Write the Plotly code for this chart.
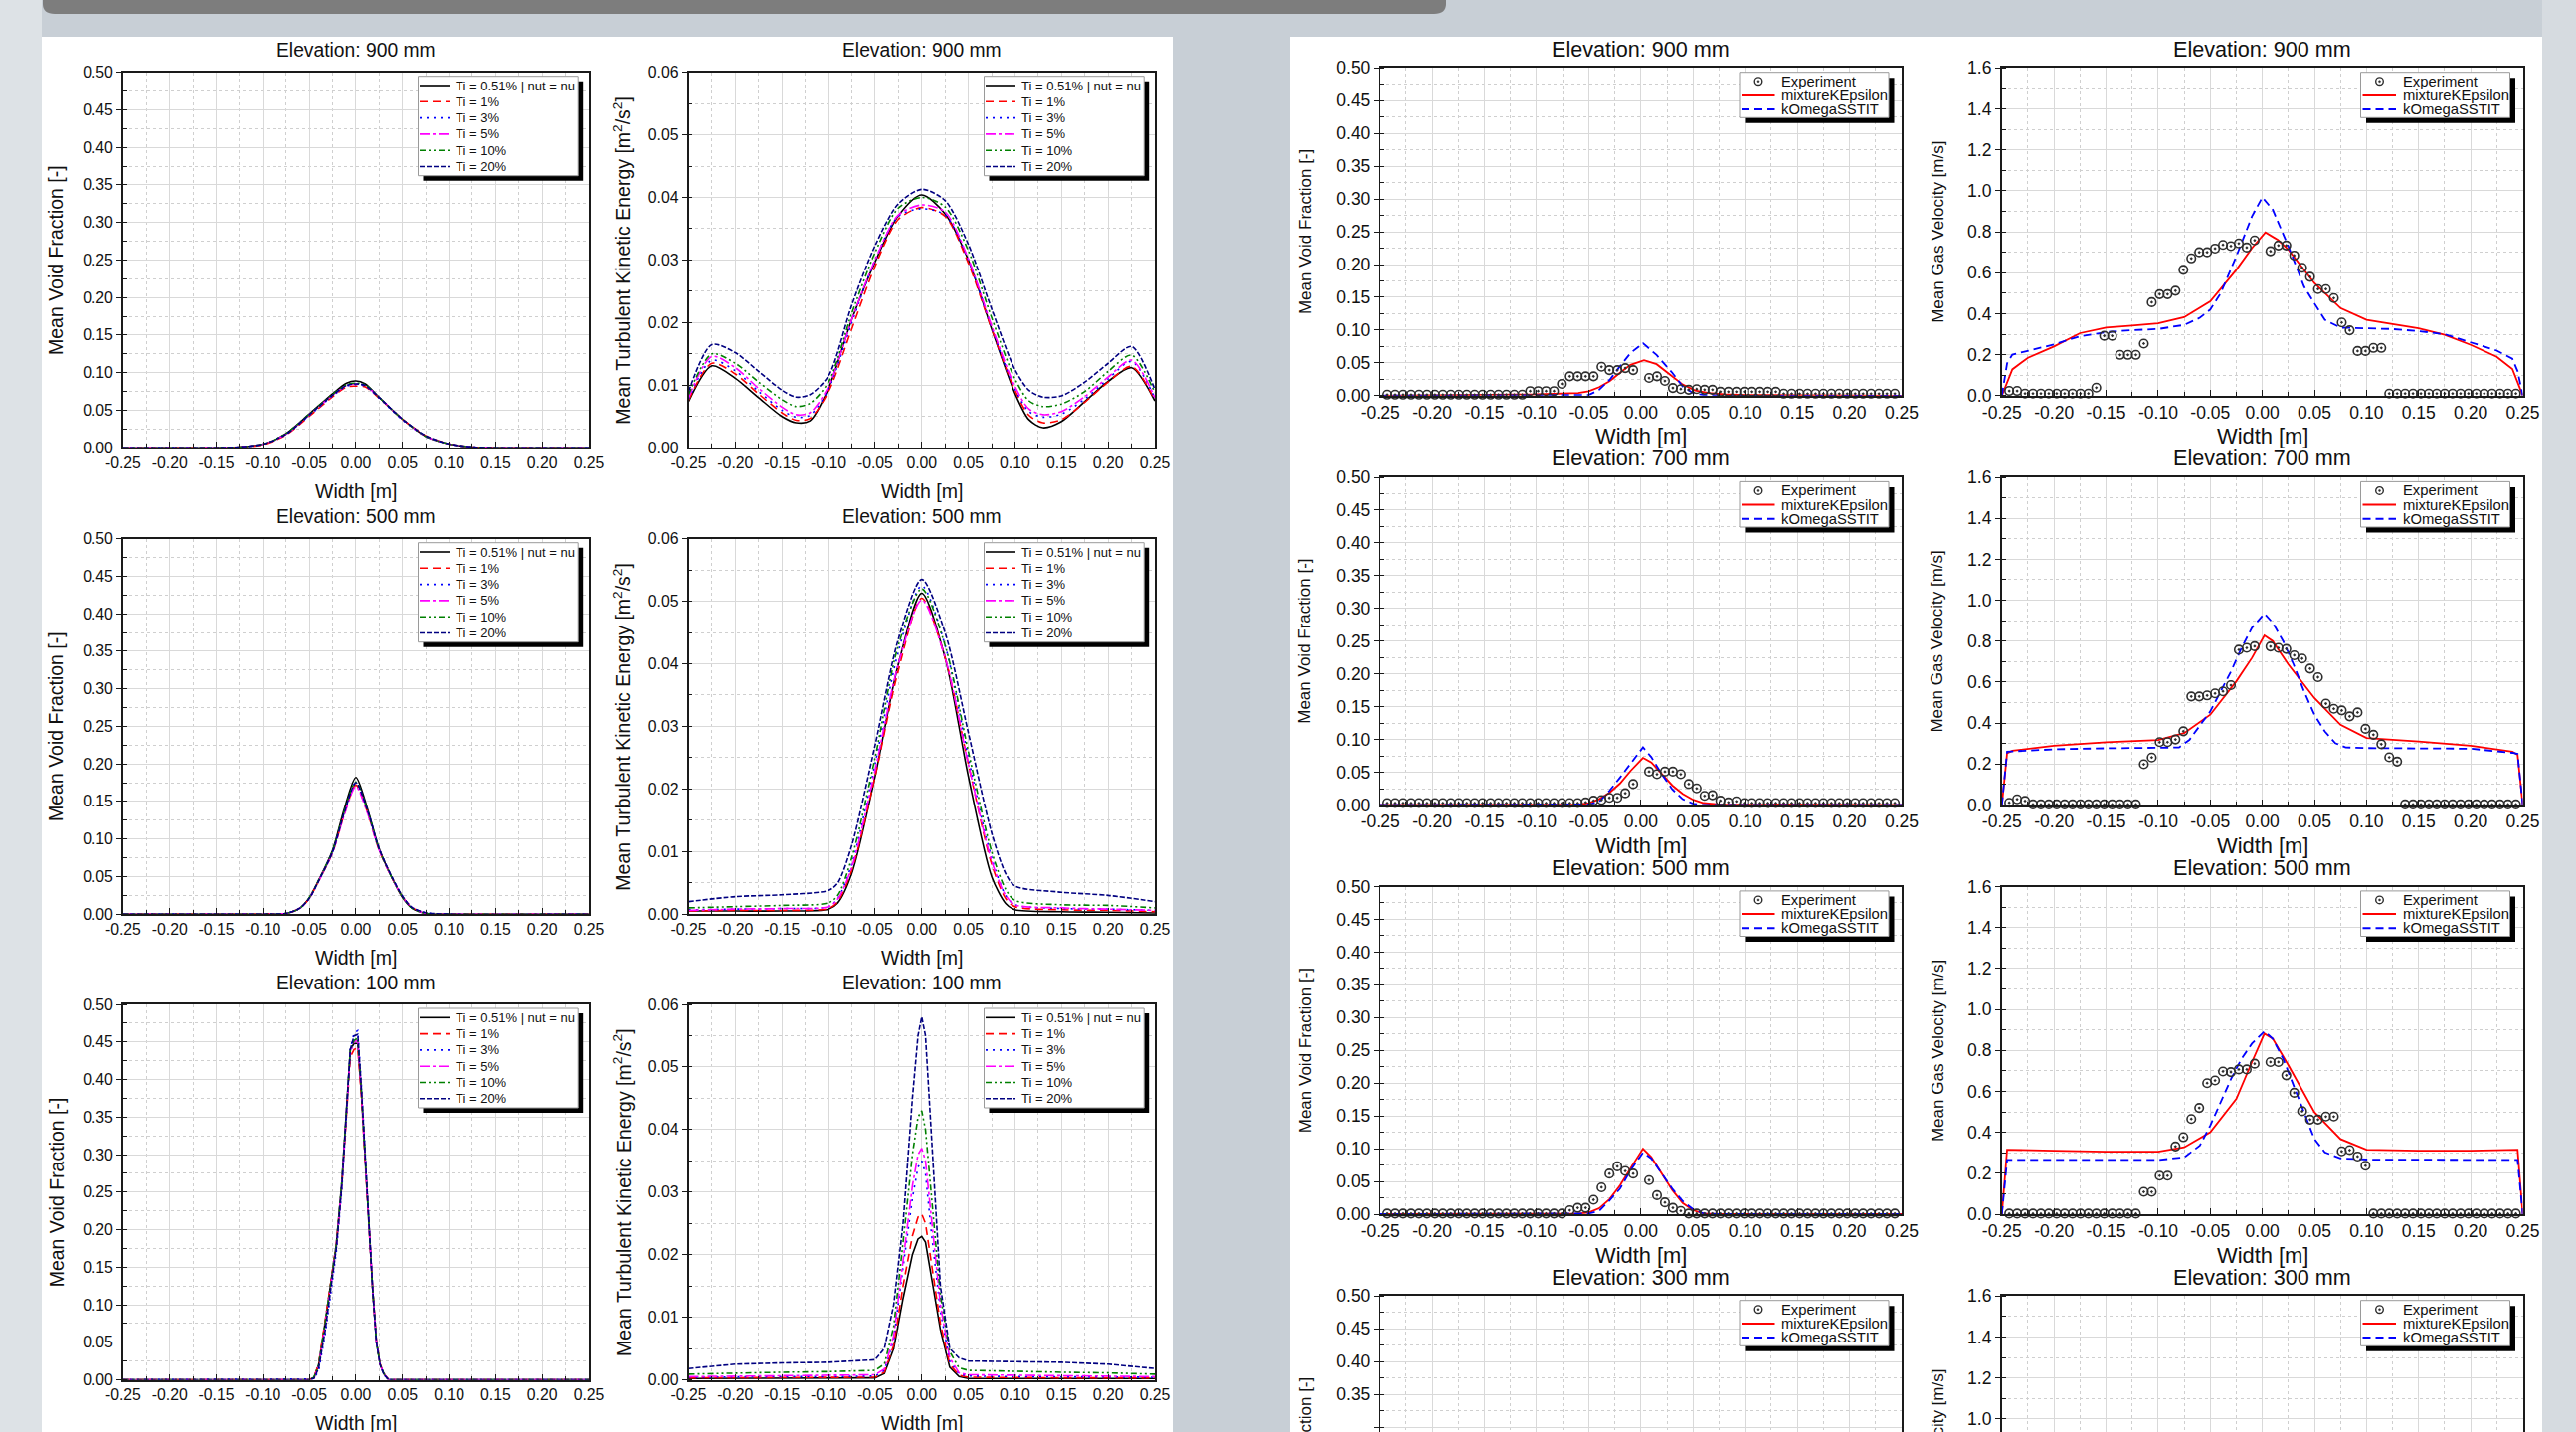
import plotly.graph_objects as go

W, H = 2590, 1440
FONT = "Liberation Sans, Arial, Helvetica, sans-serif"

# ---------------- tick labels ----------------
X_TICKS = [-0.25, -0.20, -0.15, -0.10, -0.05, 0.00, 0.05, 0.10, 0.15, 0.20, 0.25]
X_TICK_TEXT = ["-0.25", "-0.20", "-0.15", "-0.10", "-0.05", "0.00", "0.05", "0.10", "0.15", "0.20", "0.25"]
VF_TICKS = [0.00, 0.05, 0.10, 0.15, 0.20, 0.25, 0.30, 0.35, 0.40, 0.45, 0.50]
VF_TICK_TEXT = ["0.00", "0.05", "0.10", "0.15", "0.20", "0.25", "0.30", "0.35", "0.40", "0.45", "0.50"]
TKE_TICKS = [0.00, 0.01, 0.02, 0.03, 0.04, 0.05, 0.06]
TKE_TICK_TEXT = ["0.00", "0.01", "0.02", "0.03", "0.04", "0.05", "0.06"]
VEL_TICKS = [0.0, 0.2, 0.4, 0.6, 0.8, 1.0, 1.2, 1.4, 1.6]
VEL_TICK_TEXT = ["0.0", "0.2", "0.4", "0.6", "0.8", "1.0", "1.2", "1.4", "1.6"]

# ---------------- left panel: turbulence intensity study ----------------
LEFT_NAMES = ["Ti = 0.51% | nut = nu", "Ti = 1%", "Ti = 3%", "Ti = 5%", "Ti = 10%", "Ti = 20%"]

X_VF900 = [-0.25, -0.15, -0.125, -0.1, -0.075, -0.05, -0.025, -0.01, 0.0, 0.01, 0.025, 0.05, 0.075, 0.1, 0.125, 0.15, 0.25]
VF900_TI051 = [0, 0, 0.001, 0.005, 0.019, 0.045, 0.072, 0.086, 0.089, 0.085, 0.067, 0.038, 0.015, 0.005, 0.001, 0, 0]
VF900_TI1 = [0, 0, 0.001, 0.004, 0.017, 0.042, 0.068, 0.081, 0.082, 0.081, 0.066, 0.038, 0.016, 0.005, 0.001, 0, 0]
VF900_TI3 = [0, 0, 0.001, 0.005, 0.018, 0.043, 0.069, 0.082, 0.084, 0.082, 0.066, 0.037, 0.015, 0.005, 0.001, 0, 0]
VF900_TI5 = [0, 0, 0.001, 0.005, 0.018, 0.044, 0.070, 0.083, 0.085, 0.083, 0.067, 0.038, 0.015, 0.005, 0.001, 0, 0]
VF900_TI10 = [0, 0, 0.001, 0.005, 0.019, 0.045, 0.071, 0.084, 0.086, 0.084, 0.067, 0.038, 0.015, 0.005, 0.001, 0, 0]
VF900_TI20 = [0, 0, 0.001, 0.005, 0.018, 0.044, 0.070, 0.083, 0.085, 0.083, 0.067, 0.038, 0.016, 0.005, 0.001, 0, 0]

X_TKE900 = [-0.25, -0.225, -0.2, -0.175, -0.15, -0.135, -0.12, -0.1, -0.075, -0.05, -0.025, 0.0, 0.025, 0.05,
            0.075, 0.1, 0.115, 0.13, 0.15, 0.175, 0.2, 0.225, 0.25]
TKE900_TI051 = [0.0074, 0.0131, 0.0111, 0.0080, 0.0050, 0.0040, 0.0043, 0.0095, 0.0205, 0.0297, 0.0371, 0.0404,
                0.0374, 0.0300, 0.0190, 0.0087, 0.0045, 0.0032, 0.0042, 0.0074, 0.0106, 0.0128, 0.0075]
TKE900_TI1 = [0.0076, 0.0135, 0.0118, 0.0086, 0.0056, 0.0044, 0.0047, 0.0090, 0.0190, 0.0290, 0.0365, 0.0384,
              0.0370, 0.0295, 0.0190, 0.0092, 0.0052, 0.0040, 0.0045, 0.0073, 0.0105, 0.0130, 0.0076]
TKE900_TI3 = [0.0078, 0.0140, 0.0123, 0.0090, 0.0060, 0.0049, 0.0052, 0.0094, 0.0200, 0.0300, 0.0370, 0.0382,
              0.0372, 0.0300, 0.0192, 0.0094, 0.0058, 0.0049, 0.0054, 0.0078, 0.0110, 0.0138, 0.0079]
TKE900_TI5 = [0.0080, 0.0146, 0.0128, 0.0095, 0.0065, 0.0053, 0.0056, 0.0098, 0.0205, 0.0300, 0.0372, 0.0388,
              0.0377, 0.0302, 0.0195, 0.0098, 0.0062, 0.0053, 0.0058, 0.0082, 0.0113, 0.0140, 0.0080]
TKE900_TI10 = [0.0085, 0.0150, 0.0135, 0.0105, 0.0077, 0.0066, 0.0071, 0.0105, 0.0215, 0.0312, 0.0383, 0.0400,
               0.0385, 0.0315, 0.0208, 0.0110, 0.0075, 0.0066, 0.0070, 0.0090, 0.0122, 0.0148, 0.0088]
TKE900_TI20 = [0.0090, 0.0165, 0.0152, 0.0122, 0.0092, 0.0081, 0.0085, 0.0115, 0.0228, 0.0323, 0.0390, 0.0413,
               0.0395, 0.0325, 0.0222, 0.0125, 0.0092, 0.0081, 0.0083, 0.0105, 0.0135, 0.0162, 0.0093]

X_VF500 = [-0.25, -0.1, -0.075, -0.06, -0.05, -0.04, -0.025, -0.0125, 0.0, 0.0125, 0.025, 0.04, 0.05, 0.06, 0.075, 0.1, 0.25]
VF500_TI051 = [0, 0, 0.001, 0.008, 0.022, 0.045, 0.085, 0.140, 0.182, 0.140, 0.087, 0.045, 0.022, 0.008, 0.001, 0, 0]
VF500_TI1 = [0, 0, 0.001, 0.008, 0.021, 0.044, 0.082, 0.133, 0.172, 0.135, 0.085, 0.045, 0.023, 0.009, 0.001, 0, 0]
VF500_TI3 = [0, 0, 0.001, 0.008, 0.021, 0.044, 0.083, 0.135, 0.175, 0.138, 0.087, 0.046, 0.024, 0.009, 0.002, 0, 0]
VF500_TI5 = [0, 0, 0.001, 0.008, 0.021, 0.044, 0.082, 0.132, 0.170, 0.134, 0.085, 0.045, 0.023, 0.009, 0.001, 0, 0]
VF500_TI10 = [0, 0, 0.001, 0.008, 0.022, 0.045, 0.084, 0.137, 0.176, 0.138, 0.086, 0.045, 0.023, 0.008, 0.001, 0, 0]
VF500_TI20 = [0, 0, 0.001, 0.008, 0.021, 0.044, 0.083, 0.135, 0.175, 0.138, 0.087, 0.046, 0.024, 0.009, 0.002, 0, 0]

X_TKE500 = [-0.25, -0.2, -0.15, -0.1, -0.09, -0.075, -0.05, -0.025, 0.0, 0.025, 0.05, 0.075, 0.09, 0.1, 0.15, 0.2, 0.25]
TKE500_TI051 = [0.0005, 0.0005, 0.0005, 0.0008, 0.0018, 0.0065, 0.0220, 0.0400, 0.0513, 0.0410, 0.0220, 0.0060, 0.0017, 0.0007, 0.0004, 0.0003, 0.0002]
TKE500_TI1 = [0.0005, 0.0006, 0.0006, 0.0009, 0.0020, 0.0070, 0.0220, 0.0390, 0.0505, 0.0410, 0.0240, 0.0080, 0.0025, 0.0012, 0.0007, 0.0006, 0.0004]
TKE500_TI3 = [0.0007, 0.0008, 0.0009, 0.0012, 0.0025, 0.0080, 0.0240, 0.0420, 0.0525, 0.0430, 0.0250, 0.0090, 0.0030, 0.0015, 0.0009, 0.0008, 0.0006]
TKE500_TI5 = [0.0006, 0.0008, 0.0009, 0.0012, 0.0024, 0.0075, 0.0230, 0.0400, 0.0502, 0.0410, 0.0240, 0.0085, 0.0030, 0.0015, 0.0010, 0.0008, 0.0006]
TKE500_TI10 = [0.0010, 0.0012, 0.0014, 0.0018, 0.0030, 0.0090, 0.0250, 0.0430, 0.0520, 0.0430, 0.0260, 0.0100, 0.0040, 0.0022, 0.0015, 0.0014, 0.0010]
TKE500_TI20 = [0.0020, 0.0028, 0.0031, 0.0038, 0.0050, 0.0110, 0.0270, 0.0440, 0.0535, 0.0450, 0.0290, 0.0130, 0.0065, 0.0045, 0.0035, 0.0030, 0.0020]

X_VF100 = [-0.25, -0.05, -0.045, -0.04, -0.033, -0.027, -0.021, -0.015, -0.01, -0.006, -0.002, 0.002, 0.006, 0.01,
           0.014, 0.018, 0.022, 0.026, 0.03, 0.035, 0.25]
VF100_TI051 = [0, 0, 0.003, 0.020, 0.076, 0.125, 0.180, 0.265, 0.360, 0.440, 0.448, 0.448, 0.380, 0.290, 0.200, 0.120, 0.050, 0.020, 0.008, 0, 0]
VF100_TI1 = [0, 0, 0.003, 0.021, 0.078, 0.127, 0.180, 0.260, 0.355, 0.430, 0.440, 0.442, 0.375, 0.290, 0.200, 0.120, 0.052, 0.021, 0.008, 0, 0]
VF100_TI3 = [0, 0, 0.001, 0.012, 0.060, 0.115, 0.170, 0.255, 0.350, 0.440, 0.462, 0.465, 0.390, 0.300, 0.205, 0.120, 0.050, 0.020, 0.007, 0, 0]
VF100_TI5 = [0, 0, 0.002, 0.018, 0.072, 0.122, 0.178, 0.262, 0.355, 0.435, 0.450, 0.452, 0.380, 0.292, 0.200, 0.120, 0.050, 0.020, 0.008, 0, 0]
VF100_TI10 = [0, 0, 0.003, 0.020, 0.075, 0.125, 0.180, 0.265, 0.358, 0.438, 0.452, 0.455, 0.382, 0.292, 0.202, 0.120, 0.050, 0.020, 0.008, 0, 0]
VF100_TI20 = [0, 0, 0.002, 0.015, 0.065, 0.118, 0.175, 0.260, 0.352, 0.440, 0.458, 0.460, 0.385, 0.296, 0.204, 0.120, 0.050, 0.020, 0.007, 0, 0]

X_TKE100 = [-0.25, -0.2, -0.15, -0.1, -0.05, -0.04, -0.03, -0.02, -0.01, -0.004, 0.0, 0.004, 0.01, 0.02, 0.03, 0.04,
            0.05, 0.1, 0.15, 0.2, 0.25]
TKE100_TI051 = [0.0002, 0.0002, 0.0002, 0.0002, 0.0003, 0.0010, 0.0050, 0.0130, 0.0200, 0.0225, 0.0229, 0.0220, 0.0170, 0.0080, 0.0020, 0.0005, 0.0002, 0.0002, 0.0002, 0.0002, 0.0002]
TKE100_TI1 = [0.0003, 0.0003, 0.0003, 0.0003, 0.0004, 0.0012, 0.0055, 0.0150, 0.0230, 0.0260, 0.0265, 0.0250, 0.0190, 0.0090, 0.0025, 0.0007, 0.0004, 0.0003, 0.0003, 0.0003, 0.0003]
TKE100_TI3 = [0.0004, 0.0005, 0.0005, 0.0005, 0.0006, 0.0015, 0.0065, 0.0180, 0.0290, 0.0340, 0.0350, 0.0330, 0.0240, 0.0110, 0.0030, 0.0009, 0.0006, 0.0005, 0.0005, 0.0005, 0.0004]
TKE100_TI5 = [0.0005, 0.0006, 0.0006, 0.0007, 0.0008, 0.0017, 0.0070, 0.0190, 0.0310, 0.0360, 0.0370, 0.0350, 0.0260, 0.0120, 0.0035, 0.0011, 0.0008, 0.0007, 0.0006, 0.0006, 0.0005]
TKE100_TI10 = [0.0009, 0.0011, 0.0012, 0.0013, 0.0015, 0.0025, 0.0085, 0.0220, 0.0360, 0.0420, 0.0430, 0.0400, 0.0300, 0.0135, 0.0045, 0.0019, 0.0015, 0.0013, 0.0012, 0.0011, 0.0009]
TKE100_TI20 = [0.0018, 0.0025, 0.0027, 0.0028, 0.0032, 0.0050, 0.0120, 0.0250, 0.0450, 0.0550, 0.0580, 0.0550, 0.0400, 0.0150, 0.0050, 0.0035, 0.0030, 0.0029, 0.0028, 0.0025, 0.0018]

# ---------------- right panel: model comparison with experiment ----------------
RIGHT_NAMES = ["Experiment", "mixtureKEpsilon", "kOmegaSSTIT"]

EXP_X = [-0.2430, -0.2354, -0.2278, -0.2202, -0.2126, -0.2050, -0.1974, -0.1898, -0.1822, -0.1746,
         -0.1670, -0.1594, -0.1518, -0.1442, -0.1366, -0.1290, -0.1214, -0.1138, -0.1062, -0.0986,
         -0.0910, -0.0834, -0.0758, -0.0682, -0.0606, -0.0530, -0.0454, -0.0378, -0.0302, -0.0226,
         -0.0150, -0.0074, 0.0002, 0.0078, 0.0154, 0.0230, 0.0306, 0.0382, 0.0458, 0.0534,
         0.0610, 0.0686, 0.0762, 0.0838, 0.0914, 0.0990, 0.1066, 0.1142, 0.1218, 0.1294,
         0.1370, 0.1446, 0.1522, 0.1598, 0.1674, 0.1750, 0.1826, 0.1902, 0.1978, 0.2054,
         0.2130, 0.2206, 0.2282, 0.2358, 0.2434]

VF900_EXP = [0.0015, 0.0015, 0.0015, 0.0015, 0.0015, 0.0015, 0.0015, 0.0015, 0.0015, 0.0015,
             0.0015, 0.0015, 0.0015, 0.0015, 0.0015, 0.0015, 0.0015, 0.0015, 0.007, 0.007,
             0.007, 0.007, 0.018, 0.0295, 0.0295, 0.0295, 0.0295, 0.044, 0.039, 0.039,
             0.042, 0.039, None, 0.027, 0.0295, 0.0224, 0.0117, 0.010, 0.009, 0.010,
             0.009, 0.009, 0.006, 0.006, 0.006, 0.006, 0.006, 0.006, 0.006, 0.006,
             0.003, 0.003, 0.003, 0.003, 0.003, 0.003, 0.003, 0.003, 0.003, 0.003,
             0.003, 0.003, 0.003, 0.003, 0.003]
X_VF900_MKE = [-0.25, -0.1, -0.06, -0.05, -0.04, -0.03, -0.02, -0.01, 0.003, 0.015, 0.028, 0.04, 0.052, 0.065, 0.08, 0.1, 0.25]
VF900_MKE = [0, 0.002, 0.004, 0.0066, 0.013, 0.022, 0.035, 0.047, 0.054, 0.048, 0.032, 0.017, 0.008, 0.004, 0.002, 0.001, 0]
X_VF900_KOM = [-0.25, -0.1, -0.06, -0.05, -0.04, -0.03, -0.02, -0.01, 0.002, 0.015, 0.03, 0.04, 0.05, 0.06, 0.08, 0.1, 0.25]
VF900_KOM = [0, 0, 0, 0.001, 0.009, 0.024, 0.045, 0.065, 0.080, 0.062, 0.035, 0.014, 0.004, 0.001, 0, 0, 0]

VEL900_EXP = [0.023, 0.023, 0.010, 0.010, 0.010, 0.010, 0.010, 0.010, 0.010, 0.010,
              0.010, 0.039, 0.292, 0.292, 0.199, 0.199, 0.199, 0.254, 0.456, 0.495,
              0.495, 0.512, 0.614, 0.670, 0.700, 0.700, 0.718, 0.736, 0.730, 0.743,
              0.723, 0.758, None, 0.705, 0.733, 0.733, 0.684, 0.624, 0.580, 0.520,
              0.520, 0.476, 0.357, 0.319, 0.218, 0.218, 0.233, 0.233, 0.010, 0.010,
              0.010, 0.010, 0.010, 0.010, 0.010, 0.010, 0.010, 0.010, 0.010, 0.010,
              0.010, 0.010, 0.010, 0.010, 0.010]
X_VEL900_MKE = [-0.25, -0.24, -0.225, -0.2, -0.175, -0.15, -0.125, -0.1, -0.075, -0.05, -0.025, -0.01, 0.003,
                0.015, 0.025, 0.05, 0.075, 0.1, 0.125, 0.15, 0.175, 0.2, 0.225, 0.24, 0.25]
VEL900_MKE = [0, 0.128, 0.185, 0.240, 0.305, 0.332, 0.342, 0.353, 0.383, 0.460, 0.614, 0.720, 0.797,
              0.760, 0.712, 0.549, 0.427, 0.370, 0.349, 0.329, 0.297, 0.248, 0.190, 0.130, 0]
X_VEL900_KOM = [-0.25, -0.245, -0.24, -0.2, -0.175, -0.15, -0.125, -0.1, -0.075, -0.06, -0.05, -0.04, -0.025,
                -0.01, 0.0, 0.01, 0.025, 0.04, 0.05, 0.06, 0.075, 0.1, 0.125, 0.15, 0.175, 0.2, 0.225, 0.24, 0.245, 0.25]
VEL900_KOM = [0, 0.158, 0.200, 0.250, 0.290, 0.310, 0.320, 0.325, 0.345, 0.380, 0.420, 0.500, 0.680,
              0.875, 0.968, 0.908, 0.728, 0.533, 0.450, 0.370, 0.332, 0.330, 0.325, 0.315, 0.300, 0.260, 0.220, 0.180, 0.120, 0]

VF700_EXP = [0.003, 0.003, 0.003, 0.003, 0.003, 0.003, 0.003, 0.003, 0.003, 0.003,
             0.003, 0.003, 0.003, 0.003, 0.003, 0.003, 0.003, 0.003, 0.003, 0.003,
             0.003, 0.003, 0.003, 0.003, 0.003, 0.004, 0.0066, 0.0076, 0.011, 0.011,
             0.018, 0.032, None, 0.051, 0.047, 0.051, 0.051, 0.047, 0.032, 0.0254,
             0.014, 0.015, 0.0066, 0.004, 0.0056, 0.003, 0.003, 0.003, 0.003, 0.003,
             0.003, 0.003, 0.003, 0.003, 0.003, 0.003, 0.003, 0.003, 0.003, 0.003,
             0.003, 0.003, 0.003, 0.003, 0.003]
X_VF700_M = [-0.25, -0.06, -0.05, -0.04, -0.03, -0.02, -0.01, 0.002, 0.01, 0.02, 0.03, 0.04, 0.05, 0.06, 0.075, 0.25]
VF700_MKE = [0, 0.001, 0.003, 0.009, 0.019, 0.033, 0.052, 0.072, 0.065, 0.047, 0.030, 0.017, 0.008, 0.003, 0.001, 0]
VF700_KOM = [0, 0, 0.001, 0.005, 0.022, 0.042, 0.063, 0.088, 0.073, 0.047, 0.024, 0.009, 0.002, 0, 0, 0]

VEL700_EXP = [0.011, 0.028, 0.020, 0.003, 0.003, 0.003, 0.003, 0.003, 0.003, 0.003,
              0.003, 0.003, 0.003, 0.003, 0.003, 0.003, 0.003, 0.199, 0.232, 0.307,
              0.307, 0.320, 0.360, 0.530, 0.530, 0.535, 0.545, 0.555, 0.585, 0.758,
              0.767, 0.775, None, 0.774, 0.767, 0.762, 0.731, 0.715, 0.666, 0.624,
              0.495, 0.470, 0.462, 0.433, 0.452, 0.372, 0.343, 0.297, 0.233, 0.212,
              0.003, 0.003, 0.003, 0.003, 0.003, 0.003, 0.003, 0.003, 0.003, 0.003,
              0.003, 0.003, 0.003, 0.003, 0.003]
X_VEL700_MKE = [-0.25, -0.245, -0.24, -0.2, -0.15, -0.1, -0.075, -0.05, -0.025, -0.01, 0.002, 0.01, 0.025, 0.05,
                0.075, 0.1, 0.15, 0.2, 0.24, 0.245, 0.25]
VEL700_MKE = [0, 0.253, 0.265, 0.290, 0.307, 0.317, 0.351, 0.441, 0.604, 0.718, 0.828, 0.800, 0.686, 0.522,
              0.392, 0.327, 0.310, 0.290, 0.261, 0.245, 0]
X_VEL700_KOM = [-0.25, -0.245, -0.24, -0.2, -0.15, -0.1, -0.08, -0.07, -0.05, -0.03, -0.02, -0.01, 0.002, 0.01,
                0.02, 0.03, 0.04, 0.05, 0.06, 0.07, 0.08, 0.1, 0.15, 0.2, 0.24, 0.245, 0.25]
VEL700_KOM = [0, 0.260, 0.262, 0.272, 0.277, 0.280, 0.281, 0.318, 0.457, 0.653, 0.767, 0.865, 0.935, 0.890,
              0.800, 0.686, 0.555, 0.441, 0.359, 0.302, 0.281, 0.278, 0.278, 0.275, 0.255, 0.250, 0]

VF500_EXP = [0.001, 0.001, 0.001, 0.001, 0.001, 0.001, 0.001, 0.001, 0.001, 0.001,
             0.001, 0.001, 0.001, 0.001, 0.001, 0.001, 0.001, 0.001, 0.001, 0.001,
             0.001, 0.001, 0.001, 0.006, 0.0097, 0.0097, 0.022, 0.041, 0.062, 0.073,
             0.066, 0.062, None, 0.052, 0.029, 0.018, 0.0097, 0.005, 0.001, 0.001,
             0.001, 0.001, 0.001, 0.001, 0.001, 0.001, 0.001, 0.001, 0.001, 0.001,
             0.001, 0.001, 0.001, 0.001, 0.001, 0.001, 0.001, 0.001, 0.001, 0.001,
             0.001, 0.001, 0.001, 0.001, 0.001]
X_VF500_M = [-0.25, -0.06, -0.05, -0.04, -0.03, -0.02, -0.01, 0.002, 0.01, 0.02, 0.03, 0.04, 0.05, 0.06, 0.075, 0.25]
VF500_MKE = [0, 0.001, 0.0025, 0.009, 0.023, 0.044, 0.070, 0.100, 0.087, 0.062, 0.037, 0.017, 0.006, 0.001, 0, 0]
VF500_KOM = [0, 0, 0.001, 0.005, 0.021, 0.039, 0.067, 0.094, 0.085, 0.062, 0.039, 0.020, 0.0076, 0.001, 0, 0]

VEL500_EXP = [0.003, 0.003, 0.003, 0.003, 0.003, 0.003, 0.003, 0.003, 0.003, 0.003,
              0.003, 0.003, 0.003, 0.003, 0.003, 0.003, 0.003, 0.109, 0.109, 0.188,
              0.188, 0.331, 0.376, 0.465, 0.519, 0.640, 0.653, 0.697, 0.694, 0.707,
              0.707, 0.735, None, 0.743, 0.743, 0.678, 0.593, 0.503, 0.462, 0.462,
              0.477, 0.477, 0.307, 0.313, 0.282, 0.237, 0.003, 0.003, 0.003, 0.003,
              0.003, 0.003, 0.003, 0.003, 0.003, 0.003, 0.003, 0.003, 0.003, 0.003,
              0.003, 0.003, 0.003, 0.003, 0.003]
X_VEL500_MKE = [-0.25, -0.245, -0.2, -0.15, -0.1, -0.075, -0.05, -0.025, -0.01, 0.002, 0.01, 0.025, 0.05, 0.075,
                0.1, 0.15, 0.2, 0.245, 0.25]
VEL500_MKE = [0, 0.315, 0.310, 0.305, 0.305, 0.327, 0.400, 0.563, 0.743, 0.882, 0.857, 0.727, 0.498, 0.367,
              0.315, 0.310, 0.310, 0.315, 0]
X_VEL500_KOM = [-0.25, -0.245, -0.2, -0.1, -0.075, -0.06, -0.05, -0.04, -0.03, -0.02, -0.01, 0.002, 0.01, 0.02,
                0.03, 0.04, 0.05, 0.06, 0.075, 0.1, 0.2, 0.245, 0.25]
VEL500_KOM = [0, 0.265, 0.265, 0.265, 0.278, 0.335, 0.433, 0.547, 0.661, 0.759, 0.833, 0.893, 0.857, 0.759,
              0.629, 0.498, 0.367, 0.302, 0.273, 0.267, 0.267, 0.265, 0]

# 300 mm: profiles lie below the visible window
VF300_EXP = []
VEL300_EXP = []

# ---------------- styles ----------------
LEFT_COLORS = ["#000000", "#ff0000", "#0000ff", "#ff00ff", "#008000", "#000080"]
LEFT_DASH = ["solid", "8px,5px", "2px,5px", "10px,3px,3px,3px", "6px,3px,2px,3px,2px,3px", "5px,2px"]
RED = "#ff0000"
BLUE = "#0000ff"
BLUE_DASH = "8px,5px"
TXT = "#111111"
MK = "#2e2e2e"

fig = go.Figure()
layout = {}
shapes = []
annos = []


def fx(p):
    return p / W


def fy(p):
    return 1 - p / H


def rect(x0, y0, x1, y1, fill, line_color=None, lw=0, layer="above"):
    shapes.append(dict(type="rect", xref="paper", yref="paper", x0=fx(x0), x1=fx(x1), y0=fy(y1), y1=fy(y0),
                       fillcolor=fill, line=dict(color=line_color or fill, width=lw), layer=layer))


def hline(x0, x1, y, color, dash, width):
    shapes.append(dict(type="line", xref="paper", yref="paper", x0=fx(x0), x1=fx(x1), y0=fy(y), y1=fy(y),
                       line=dict(color=color, dash=dash, width=width)))


def text(x, y, s, size, xanchor="center", angle=0):
    annos.append(dict(xref="paper", yref="paper", x=fx(x), y=fy(y), text=s, showarrow=False,
                      xanchor=xanchor, yanchor="middle", textangle=angle,
                      font=dict(family=FONT, size=size, color=TXT)))


def add_axes(k, l, t, r, h, yrange, ytv, ytt, ydminor, tsize, bottom_visible=True):
    xa = "xaxis" if k == 1 else "xaxis%d" % k
    ya = "yaxis" if k == 1 else "yaxis%d" % k
    xr = "x" if k == 1 else "x%d" % k
    yr = "y" if k == 1 else "y%d" % k
    b = t + h
    yb = min(b, H)
    lo = yrange[1] - (yrange[1] - yrange[0]) * (yb - t) / h
    common = dict(showline=True, linecolor="#1a1a1a", linewidth=1.7, automargin=False,
                  showgrid=True, gridcolor="#d9d9d9", gridwidth=1, zeroline=False,
                  tickcolor="#1a1a1a", tickwidth=1.2,
                  tickfont=dict(family=FONT, size=tsize, color=TXT))
    xminor = dict(tick0=-0.25, dtick=0.025, ticks="inside", ticklen=4, tickcolor="#1a1a1a",
                  showgrid=True, gridcolor="#cfcfcf", griddash="dot", gridwidth=1)
    if bottom_visible:
        layout[xa] = dict(common, domain=[fx(l), fx(r)], anchor=yr, range=[-0.25, 0.25], mirror=True,
                          tickmode="array", tickvals=X_TICKS, ticktext=X_TICK_TEXT,
                          ticks="inside", ticklen=6, minor=xminor)
    else:
        xminor["ticks"] = ""
        layout[xa] = dict(common, domain=[fx(l), fx(r)], anchor=yr, range=[-0.25, 0.25], mirror=False,
                          side="top", tickmode="array", tickvals=X_TICKS, ticktext=X_TICK_TEXT,
                          ticks="", showticklabels=False, minor=xminor)
    layout[ya] = dict(common, domain=[fy(yb), fy(t)], anchor=xr, range=[lo, yrange[1]], mirror=True,
                      tickmode="array", tickvals=ytv, ticktext=ytt, ticks="outside", ticklen=5,
                      minor=dict(tick0=0, dtick=ydminor, ticks="inside", ticklen=4, tickcolor="#1a1a1a",
                                 showgrid=True, gridcolor="#cfcfcf", griddash="dot", gridwidth=1))
    return xr, yr


# ---------------- background ----------------
rect(0, 0, 42, 1440, "#dde2e6", layer="below")
rect(2556, 0, 2590, 1440, "#d6dbe0", layer="below")
path = "M %f,%f L %f,%f L %f,%f Q %f,%f %f,%f L %f,%f Q %f,%f %f,%f Z" % (
    fx(43), fy(0), fx(1454), fy(0), fx(1454), fy(4), fx(1454), fy(14), fx(1442), fy(14),
    fx(55), fy(14), fx(43), fy(14), fx(43), fy(4))
shapes.append(dict(type="path", xref="paper", yref="paper", path=path, fillcolor="#7d7d7d",
                   line=dict(width=0), layer="below"))
rect(42, 37, 1179, 1445, "#ffffff", layer="below")
rect(1297, 37, 2556, 1445, "#ffffff", layer="below")

# ---------------- left panel ----------------
LEFT_COLS = [(123.9, 592.0), (692.5, 1161.0)]
LEFT_ROWS = [72.7, 541.7, 1010.0]
LEFT_H = 377.5
left_specs = [
    ("Elevation: 900 mm", X_VF900, [VF900_TI051, VF900_TI1, VF900_TI3, VF900_TI5, VF900_TI10, VF900_TI20], "vf", "spline"),
    ("Elevation: 900 mm", X_TKE900, [TKE900_TI051, TKE900_TI1, TKE900_TI3, TKE900_TI5, TKE900_TI10, TKE900_TI20], "tke", "spline"),
    ("Elevation: 500 mm", X_VF500, [VF500_TI051, VF500_TI1, VF500_TI3, VF500_TI5, VF500_TI10, VF500_TI20], "vf", "spline"),
    ("Elevation: 500 mm", X_TKE500, [TKE500_TI051, TKE500_TI1, TKE500_TI3, TKE500_TI5, TKE500_TI10, TKE500_TI20], "tke", "spline"),
    ("Elevation: 100 mm", X_VF100, [VF100_TI051, VF100_TI1, VF100_TI3, VF100_TI5, VF100_TI10, VF100_TI20], "vf", "linear"),
    ("Elevation: 100 mm", X_TKE100, [TKE100_TI051, TKE100_TI1, TKE100_TI3, TKE100_TI5, TKE100_TI10, TKE100_TI20], "tke", "linear"),
]

k = 0
for i, (title, xs, series, kind, shape) in enumerate(left_specs):
    k += 1
    row, col = divmod(i, 2)
    l, r = LEFT_COLS[col]
    t = LEFT_ROWS[row]
    if kind == "vf":
        xr, yr = add_axes(k, l, t, r, LEFT_H, (0, 0.5), VF_TICKS, VF_TICK_TEXT, 0.025, 15.8)
        ylab = "Mean Void Fraction [-]"
    else:
        xr, yr = add_axes(k, l, t, r, LEFT_H, (0, 0.06), TKE_TICKS, TKE_TICK_TEXT, 0.005, 15.8)
        ylab = "Mean Turbulent Kinetic Energy [m<sup>2</sup>/s<sup>2</sup>]"
    for j, ys in enumerate(series):
        line = dict(color=LEFT_COLORS[j], width=1.6, dash=LEFT_DASH[j], shape=shape)
        if shape == "spline":
            line["smoothing"] = 0.8
        fig.add_trace(go.Scatter(x=xs, y=ys, mode="lines", line=line, name=LEFT_NAMES[j],
                                 xaxis=xr, yaxis=yr, showlegend=False, hoverinfo="skip"))
    cx = (l + r) / 2
    text(cx, t - 22, title, 19.3)
    text(cx, t + LEFT_H + 43.5, "Width [m]", 19.5)
    text(l - 67.3, t + LEFT_H / 2, ylab, 19.5, angle=-90)
    # legend box
    bx0, bx1, by0, by1 = r - 171.5, r - 10.8, t + 4, t + 104
    rect(bx0 + 5, by0 + 5, bx1 + 5, by1 + 5, "#000000")
    rect(bx0, by0, bx1, by1, "#ffffff", "#9a9a9a", 1)
    for j in range(6):
        yy = t + 13.3 + 16.3 * j
        hline(bx0 + 1.5, bx0 + 31.5, yy, LEFT_COLORS[j], LEFT_DASH[j], 1.6)
        text(bx0 + 35, yy, LEFT_NAMES[j], 13, xanchor="left")

# ---------------- right panel ----------------
RIGHT_COLS = [(1387.7, 1912.0), (2012.8, 2536.5)]
RIGHT_ROWS = [68.3, 480.0, 891.5, 1303.3]
RIGHT_H = 329.5
right_specs = [
    ("Elevation: 900 mm", "vf", VF900_EXP, (X_VF900_MKE, VF900_MKE), (X_VF900_KOM, VF900_KOM)),
    ("Elevation: 900 mm", "vel", VEL900_EXP, (X_VEL900_MKE, VEL900_MKE), (X_VEL900_KOM, VEL900_KOM)),
    ("Elevation: 700 mm", "vf", VF700_EXP, (X_VF700_M, VF700_MKE), (X_VF700_M, VF700_KOM)),
    ("Elevation: 700 mm", "vel", VEL700_EXP, (X_VEL700_MKE, VEL700_MKE), (X_VEL700_KOM, VEL700_KOM)),
    ("Elevation: 500 mm", "vf", VF500_EXP, (X_VF500_M, VF500_MKE), (X_VF500_M, VF500_KOM)),
    ("Elevation: 500 mm", "vel", VEL500_EXP, (X_VEL500_MKE, VEL500_MKE), (X_VEL500_KOM, VEL500_KOM)),
    ("Elevation: 300 mm", "vf", VF300_EXP, ([], []), ([], [])),
    ("Elevation: 300 mm", "vel", VEL300_EXP, ([], []), ([], [])),
]

for i, (title, kind, exp, mke, kom) in enumerate(right_specs):
    k += 1
    row, col = divmod(i, 2)
    l, r = RIGHT_COLS[col]
    t = RIGHT_ROWS[row]
    visible_bottom = t + RIGHT_H <= H
    if kind == "vf":
        xr, yr = add_axes(k, l, t, r, RIGHT_H, (0, 0.5), VF_TICKS, VF_TICK_TEXT, 0.025, 17.5, visible_bottom)
        ylab = "Mean Void Fraction [-]"
    else:
        xr, yr = add_axes(k, l, t, r, RIGHT_H, (0, 1.6), VEL_TICKS, VEL_TICK_TEXT, 0.1, 17.5, visible_bottom)
        ylab = "Mean Gas Velocity [m/s]"
    fig.add_trace(go.Scatter(x=mke[0], y=mke[1], mode="lines", name=RIGHT_NAMES[1],
                             line=dict(color=RED, width=1.8), xaxis=xr, yaxis=yr,
                             showlegend=False, hoverinfo="skip"))
    fig.add_trace(go.Scatter(x=kom[0], y=kom[1], mode="lines", name=RIGHT_NAMES[2],
                             line=dict(color=BLUE, width=1.8, dash=BLUE_DASH), xaxis=xr, yaxis=yr,
                             showlegend=False, hoverinfo="skip"))
    fig.add_trace(go.Scatter(x=EXP_X if exp else [], y=exp, mode="markers", name=RIGHT_NAMES[0],
                             marker=dict(symbol="circle-open-dot", size=8.5, color=MK,
                                         line=dict(width=1.6, color=MK)),
                             cliponaxis=False, xaxis=xr, yaxis=yr, showlegend=False, hoverinfo="skip"))
    cx = (l + r) / 2
    text(cx, t - 19, title, 21.6)
    if visible_bottom:
        text(cx, t + RIGHT_H + 41, "Width [m]", 21.9)
    text(l - (75.7 if col == 0 else 65.0), t + RIGHT_H / 2, ylab, 17, angle=-90)
    # legend box
    bx0, bx1, by0, by1 = r - 163, r - 13, t + 4.4, t + 50
    rect(bx0 + 5.5, by0 + 5.5, bx1 + 5.5, by1 + 5.5, "#000000")
    rect(bx0, by0, bx1, by1, "#ffffff", "#9a9a9a", 1)
    y0 = t + 13.4
    cxm = bx0 + 19
    shapes.append(dict(type="circle", xref="paper", yref="paper", x0=fx(cxm - 3.8), x1=fx(cxm + 3.8),
                       y0=fy(y0 + 3.8), y1=fy(y0 - 3.8), line=dict(color=MK, width=1.4)))
    shapes.append(dict(type="circle", xref="paper", yref="paper", x0=fx(cxm - 1), x1=fx(cxm + 1),
                       y0=fy(y0 + 1), y1=fy(y0 - 1), fillcolor=MK, line=dict(color=MK, width=0.5)))
    hline(bx0 + 2, bx0 + 35.5, y0 + 14.2, RED, "solid", 2)
    hline(bx0 + 2, bx0 + 35.5, y0 + 28.4, BLUE, BLUE_DASH, 2)
    for j in range(3):
        text(bx0 + 40, y0 + 14.2 * j, RIGHT_NAMES[j], 14.8, xanchor="left")

fig.update_layout(
    width=W, height=H, margin=dict(l=0, r=0, t=0, b=0, pad=0, autoexpand=False),
    paper_bgcolor="#c8cfd6", plot_bgcolor="#ffffff",
    showlegend=False, shapes=shapes, annotations=annos,
    font=dict(family=FONT, color=TXT),
    **layout,
)

fig.write_html("out.html", config={"displayModeBar": False},
               post_script="document.body.style.margin='0';document.body.style.overflow='hidden';")
